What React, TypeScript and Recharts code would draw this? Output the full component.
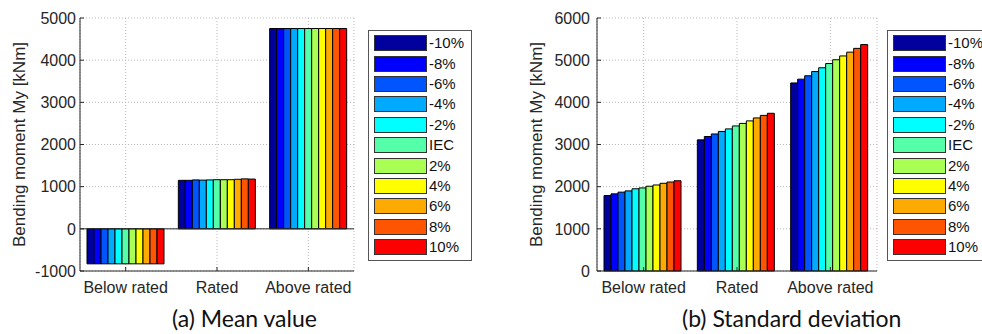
import React from "react";
import {
    BarChart, Bar, XAxis, YAxis, CartesianGrid, Legend, ReferenceLine,
} from "recharts";

// ── DATA ──────────────────────────────────────────────────────
const CATEGORIES = ["Below rated", "Rated", "Above rated"];
const SCENARIOS = ["-10%", "-8%", "-6%", "-4%", "-2%", "IEC", "2%", "4%", "6%", "8%", "10%"];

// mean bending moment [kNm], one value per scenario
const MEAN_BELOW = [-830, -830, -830, -830, -830, -830, -830, -830, -830, -830, -830];
const MEAN_RATED = [1150, 1150, 1160, 1155, 1160, 1165, 1165, 1165, 1175, 1185, 1180];
const MEAN_ABOVE = [4750, 4750, 4750, 4750, 4750, 4750, 4750, 4750, 4750, 4750, 4750];

// standard deviation of bending moment [kNm]
const STD_BELOW = [1790, 1830, 1870, 1900, 1950, 1970, 2010, 2040, 2080, 2110, 2140];
const STD_RATED = [3110, 3190, 3250, 3310, 3370, 3440, 3500, 3560, 3630, 3690, 3740];
const STD_ABOVE = [4460, 4550, 4630, 4730, 4820, 4920, 5010, 5100, 5190, 5280, 5370];

const MEAN_TICKS = [-1000, 0, 1000, 2000, 3000, 4000, 5000];
const STD_TICKS = [0, 1000, 2000, 3000, 4000, 5000, 6000];

// jet colour map, 11 steps
const JET = [
    "#00009c", "#0000ff", "#0055ff", "#00aaff", "#00ffff", "#55ffaa",
    "#aaff55", "#ffff00", "#ffaa00", "#ff5500", "#ff0000",
];

const FONT = "'Liberation Sans', Arial, sans-serif";
const INK = "#262626";
const GRID = "#b8b8b8";

function buildRows(groups: number[][]) {
    return CATEGORIES.map((name, ci) => {
        const row: Record<string, string | number> = { name };
        SCENARIOS.forEach((s, si) => { row[s] = groups[ci][si]; });
        return row;
    });
}

const meanRows = buildRows([MEAN_BELOW, MEAN_RATED, MEAN_ABOVE]);
const stdRows = buildRows([STD_BELOW, STD_RATED, STD_ABOVE]);

// ── LEGEND BOX ────────────────────────────────────────────────
// keep series order (the default legend sorts by name)
const LegendBox = ({ payload }: any) => {
    const items = [...(payload || [])].sort(
        (a: any, b: any) => SCENARIOS.indexOf(a.value) - SCENARIOS.indexOf(b.value)
    );
    return (
        <div style={{
            border: "1px solid #555", background: "#fff", padding: "2px 0 3px 5px",
            width: 97, fontFamily: FONT, fontSize: 15, color: "#111",
        }}>
            {items.map((p: any) => (
                <div key={p.value} style={{ display: "flex", alignItems: "center", height: 20.4 }}>
                    <span style={{
                        display: "inline-block", width: 53, height: 16, boxSizing: "border-box",
                        background: p.color, border: "1px solid #333",
                    }} />
                    <span style={{ marginLeft: 2, lineHeight: "16px" }}>{p.value}</span>
                </div>
            ))}
        </div>
    );
};

// rotated y-axis title
const yTitle = (props: any) => {
    const vb = props.viewBox || {};
    const x = vb.x - 1;
    const y = vb.y + vb.height / 2;
    return (
        <text
            x={x} y={y} transform={`rotate(-90 ${x} ${y})`}
            textAnchor="middle" dominantBaseline="central"
            fontFamily={FONT} fontSize={17} fill={INK}
        >
            Bending moment My [kNm]
        </text>
    );
};

// ── ONE PANEL ─────────────────────────────────────────────────
interface PanelProps {
    rows: Record<string, string | number>[];
    ticks: number[];
    width: number;
    marginRight: number;
    tickGap: number;
    legendLeft: number;
    zeroLine?: boolean;
}

function Panel({ rows, ticks, width, marginRight, tickGap, legendLeft, zeroLine }: PanelProps) {
    const domain: [number, number] = [ticks[0], ticks[ticks.length - 1]];
    return (
        <BarChart
            width={width} height={300} data={rows}
            margin={{ top: 18, right: marginRight, left: 20, bottom: 4 }}
            barGap={0} barCategoryGap={7}
        >
            <CartesianGrid stroke={GRID} strokeDasharray="1 2" />
            <XAxis
                dataKey="name" height={25} interval={0}
                tick={{ fontSize: 16, fill: INK, fontFamily: FONT }}
                tickSize={-4} tickMargin={15}
                stroke={INK} axisLine={{ stroke: INK }}
            />
            <XAxis xAxisId="top" dataKey="name" orientation="top" height={0} tick={false} stroke={INK} />
            <YAxis
                type="number" domain={domain} ticks={ticks} width={60} interval={0}
                tick={{ fontSize: 16, fill: INK, fontFamily: FONT }}
                tickSize={-4} tickMargin={tickGap}
                stroke={INK} label={yTitle}
            />
            <YAxis
                yAxisId="right" orientation="right" type="number" domain={domain} ticks={ticks}
                width={0} tickSize={-4} tickFormatter={() => ""} stroke={INK}
            />
            {zeroLine && <ReferenceLine y={0} stroke={INK} strokeWidth={1} />}
            {SCENARIOS.map((s, i) => (
                <Bar
                    key={s} dataKey={s} name={s} fill={JET[i]}
                    stroke="#000" strokeWidth={1}
                    isAnimationActive={false}
                />
            ))}
            <Legend
                layout="vertical" align="center" verticalAlign="middle"
                content={<LegendBox />}
                wrapperStyle={{ left: legendLeft, top: 30, width: 104 }}
            />
        </BarChart>
    );
}

export default function App() {
    const caption: React.CSSProperties = {
        position: "absolute", top: 306, fontFamily: "Lato, 'Open Sans', sans-serif",
        fontSize: 23, lineHeight: "24px", color: "#111", whiteSpace: "nowrap",
    };
    return (
        <div style={{
            position: "fixed", left: 0, top: 0, width: 982, height: 334,
            overflow: "hidden", background: "#fff",
        }}>
            <div style={{ position: "absolute", left: 0, top: 0 }}>
                <Panel
                    rows={meanRows} ticks={MEAN_TICKS} width={480} marginRight={126}
                    tickGap={8} legendLeft={368} zeroLine
                />
            </div>
            <div style={{ position: "absolute", left: 517, top: 0 }}>
                <Panel
                    rows={stdRows} ticks={STD_TICKS} width={480} marginRight={120}
                    tickGap={11} legendLeft={370}
                />
            </div>
            <div style={{ ...caption, left: 172 }}>(a) Mean value</div>
            <div style={{ ...caption, left: 682 }}>(b) Standard deviation</div>
        </div>
    );
}
